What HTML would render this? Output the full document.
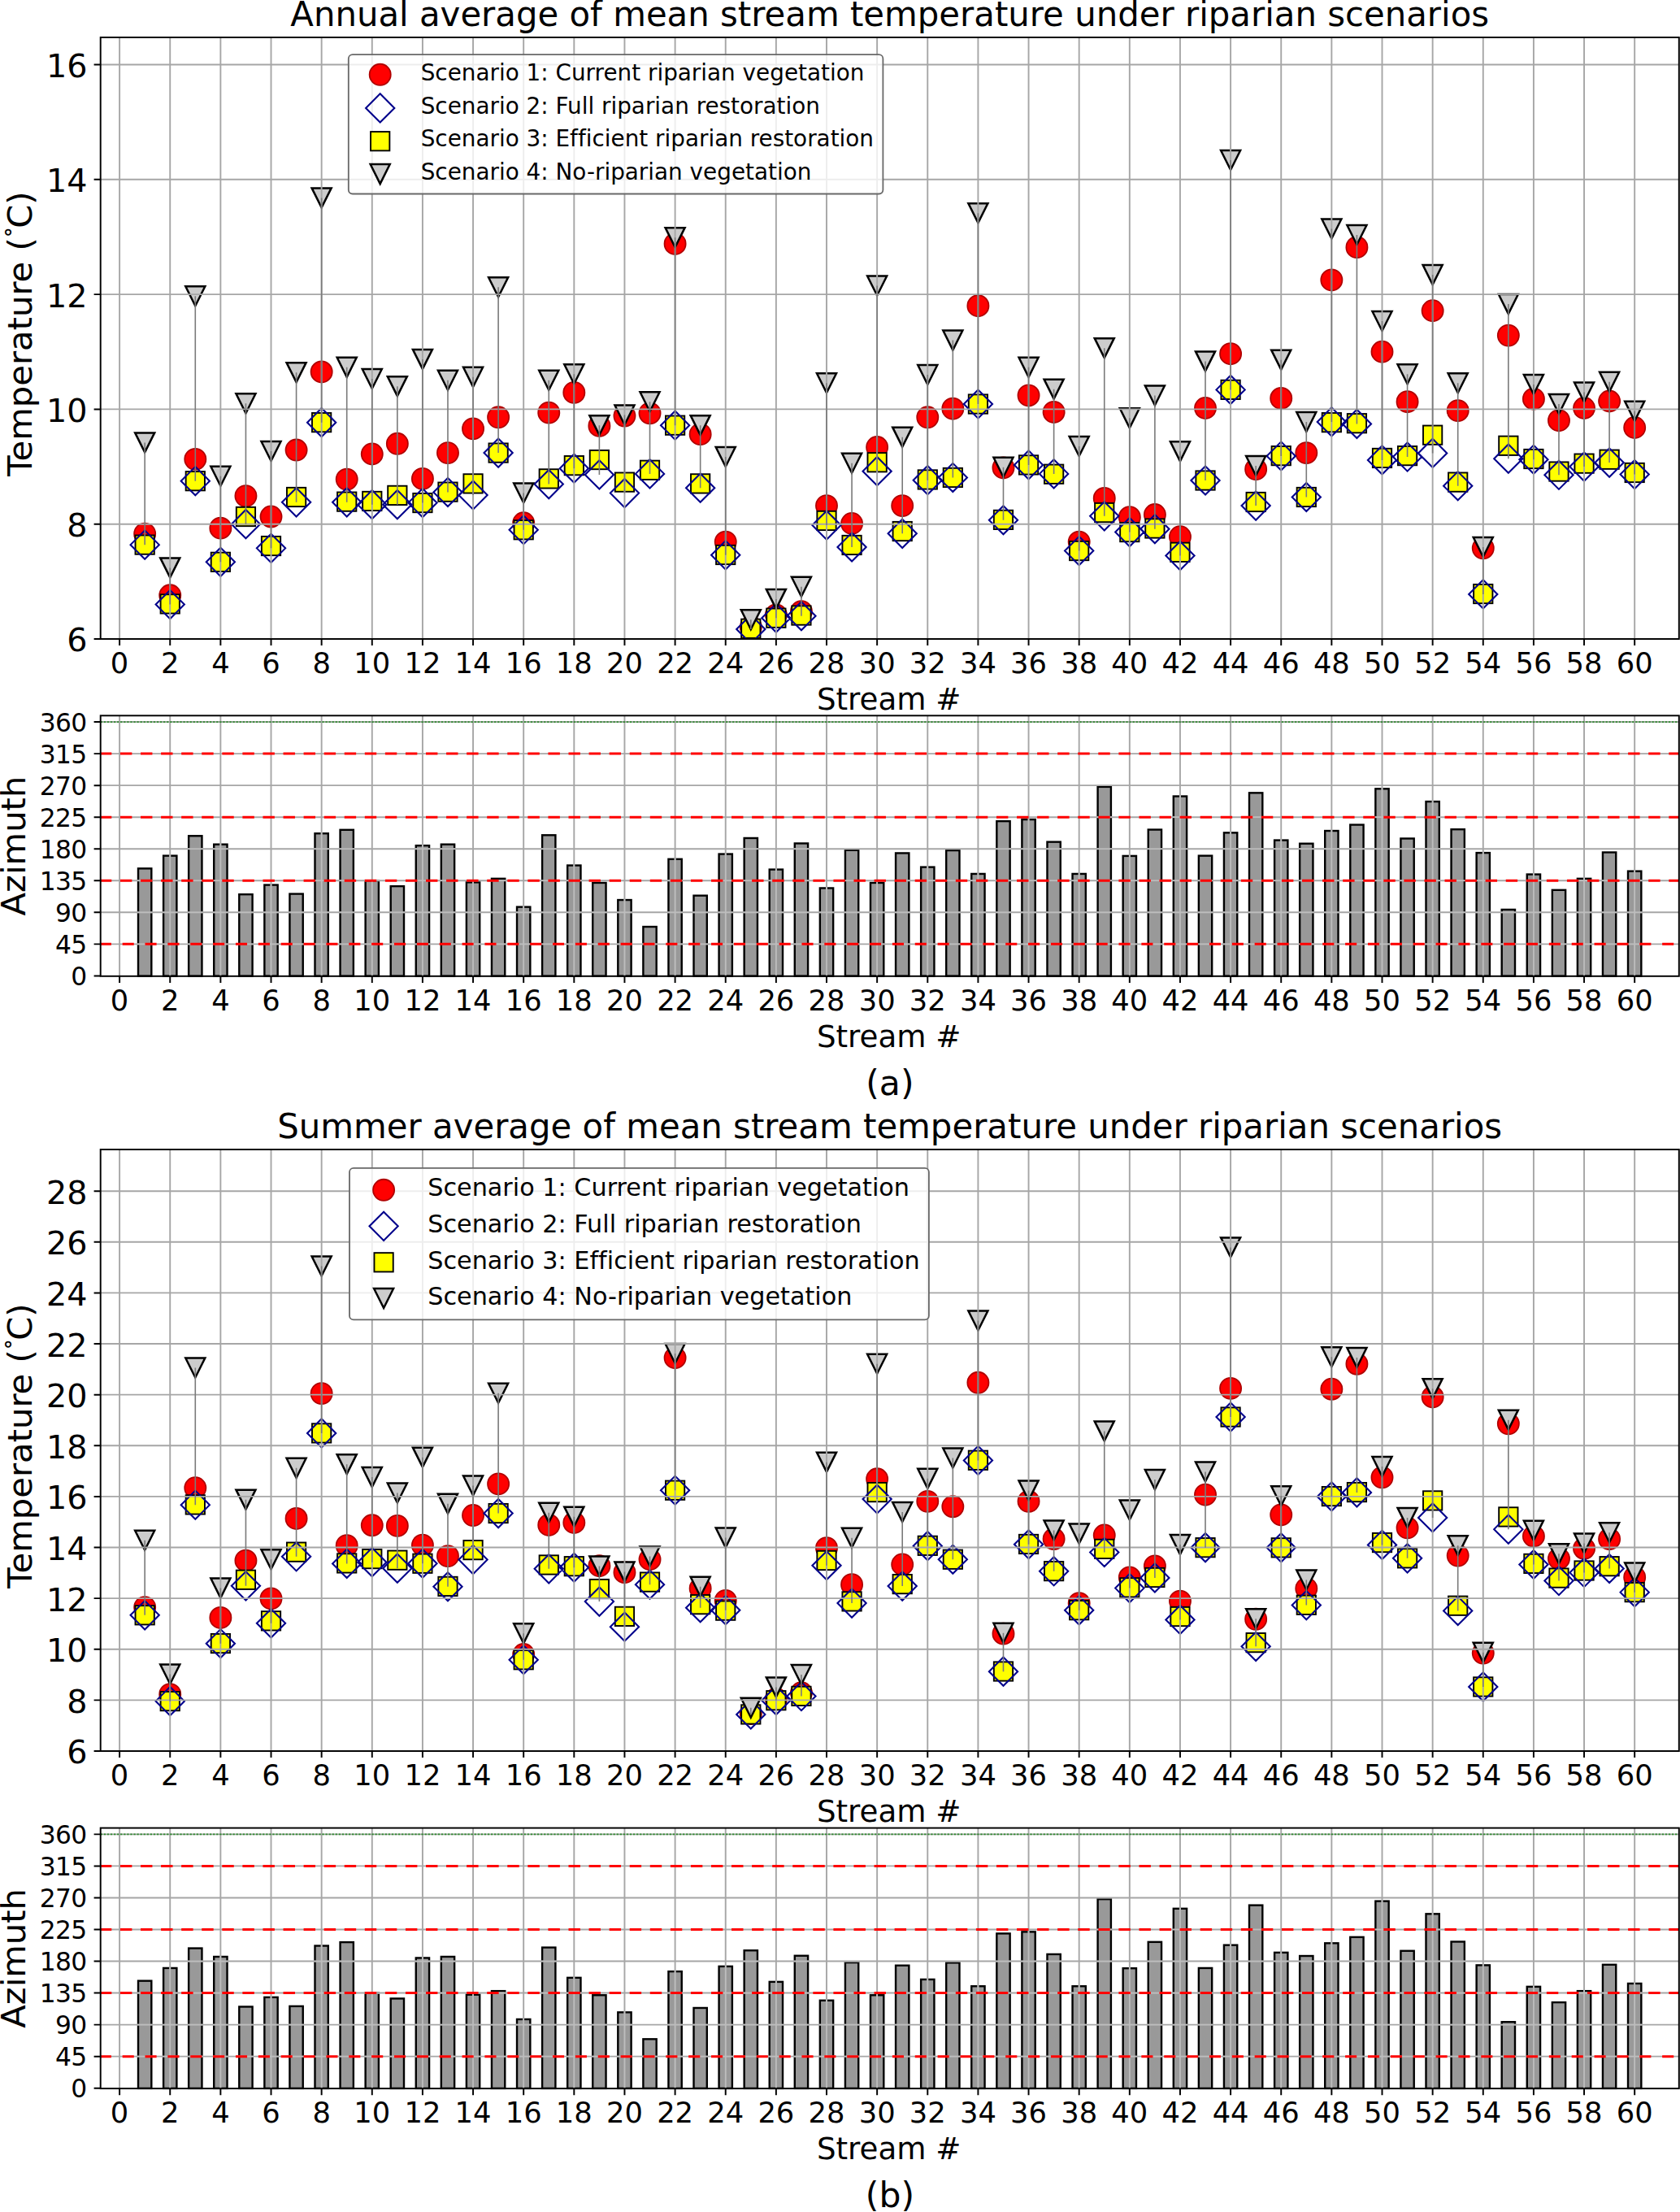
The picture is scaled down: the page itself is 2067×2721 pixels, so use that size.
<!DOCTYPE html>
<html lang="en"><head><meta charset="utf-8"><title>Stream temperature under riparian scenarios</title>
<style>html,body{margin:0;padding:0;background:#fff}svg{display:block}</style></head>
<body>
<svg width="2067" height="2721" viewBox="0 0 2067 2721" font-family="'DejaVu Sans','Liberation Sans',sans-serif" fill="#000" style="font-variant-ligatures:none;font-kerning:normal">
<rect width="2067" height="2721" fill="#fff"/>
<clipPath id="c46"><rect x="123.7" y="46" width="1942.1" height="740"/></clipPath>
<g clip-path="url(#c46)">
<g fill="#ff0000" stroke="#b00000" stroke-width="1.8">
<circle cx="178.17" cy="656.71" r="13.05"/>
<circle cx="209.24" cy="732.31" r="13.05"/>
<circle cx="240.3" cy="564.87" r="13.05"/>
<circle cx="271.37" cy="649.65" r="13.05"/>
<circle cx="302.44" cy="610.08" r="13.05"/>
<circle cx="333.51" cy="635.52" r="13.05"/>
<circle cx="364.58" cy="553.56" r="13.05"/>
<circle cx="395.64" cy="457.48" r="13.05"/>
<circle cx="426.71" cy="589.59" r="13.05"/>
<circle cx="457.78" cy="558.51" r="13.05"/>
<circle cx="488.85" cy="545.79" r="13.05"/>
<circle cx="519.92" cy="588.89" r="13.05"/>
<circle cx="550.98" cy="557.09" r="13.05"/>
<circle cx="582.05" cy="527.42" r="13.05"/>
<circle cx="613.12" cy="513.29" r="13.05"/>
<circle cx="644.19" cy="643.29" r="13.05"/>
<circle cx="675.26" cy="507.64" r="13.05"/>
<circle cx="706.32" cy="482.91" r="13.05"/>
<circle cx="737.39" cy="523.89" r="13.05"/>
<circle cx="768.46" cy="511.52" r="13.05"/>
<circle cx="799.53" cy="508.35" r="13.05"/>
<circle cx="830.6" cy="299.93" r="13.05"/>
<circle cx="861.66" cy="534.13" r="13.05"/>
<circle cx="892.73" cy="666.6" r="13.05"/>
<circle cx="923.8" cy="771.16" r="13.05"/>
<circle cx="954.87" cy="756.33" r="13.05"/>
<circle cx="985.94" cy="752.09" r="13.05"/>
<circle cx="1017" cy="622.09" r="13.05"/>
<circle cx="1048.07" cy="643.99" r="13.05"/>
<circle cx="1079.14" cy="550.03" r="13.05"/>
<circle cx="1110.21" cy="622.09" r="13.05"/>
<circle cx="1141.28" cy="513.29" r="13.05"/>
<circle cx="1172.34" cy="502.69" r="13.05"/>
<circle cx="1203.41" cy="376.23" r="13.05"/>
<circle cx="1234.48" cy="575.46" r="13.05"/>
<circle cx="1265.55" cy="486.44" r="13.05"/>
<circle cx="1296.62" cy="506.93" r="13.05"/>
<circle cx="1327.68" cy="666.6" r="13.05"/>
<circle cx="1358.75" cy="612.91" r="13.05"/>
<circle cx="1389.82" cy="636.22" r="13.05"/>
<circle cx="1420.89" cy="633.04" r="13.05"/>
<circle cx="1451.96" cy="660.24" r="13.05"/>
<circle cx="1483.02" cy="501.99" r="13.05"/>
<circle cx="1514.09" cy="435.22" r="13.05"/>
<circle cx="1545.16" cy="577.23" r="13.05"/>
<circle cx="1576.23" cy="489.98" r="13.05"/>
<circle cx="1607.3" cy="557.09" r="13.05"/>
<circle cx="1638.36" cy="344.44" r="13.05"/>
<circle cx="1669.43" cy="304.17" r="13.05"/>
<circle cx="1700.5" cy="432.75" r="13.05"/>
<circle cx="1731.57" cy="494.22" r="13.05"/>
<circle cx="1762.64" cy="382.24" r="13.05"/>
<circle cx="1793.7" cy="505.17" r="13.05"/>
<circle cx="1824.77" cy="674.37" r="13.05"/>
<circle cx="1855.84" cy="412.61" r="13.05"/>
<circle cx="1886.91" cy="490.68" r="13.05"/>
<circle cx="1917.98" cy="517.18" r="13.05"/>
<circle cx="1949.04" cy="501.99" r="13.05"/>
<circle cx="1980.11" cy="493.51" r="13.05"/>
<circle cx="2011.18" cy="526.01" r="13.05"/>
</g>
<g fill="#ffff00" stroke="#000" stroke-width="1.9">
<rect x="166.52" y="658.48" width="23.3" height="23.3"/>
<rect x="197.59" y="731.25" width="23.3" height="23.3"/>
<rect x="228.65" y="580.06" width="23.3" height="23.3"/>
<rect x="259.72" y="679.68" width="23.3" height="23.3"/>
<rect x="290.79" y="623.87" width="23.3" height="23.3"/>
<rect x="321.86" y="659.9" width="23.3" height="23.3"/>
<rect x="352.93" y="599.84" width="23.3" height="23.3"/>
<rect x="383.99" y="508" width="23.3" height="23.3"/>
<rect x="415.06" y="605.5" width="23.3" height="23.3"/>
<rect x="446.13" y="604.79" width="23.3" height="23.3"/>
<rect x="477.2" y="597.73" width="23.3" height="23.3"/>
<rect x="508.27" y="606.91" width="23.3" height="23.3"/>
<rect x="539.33" y="593.49" width="23.3" height="23.3"/>
<rect x="570.4" y="583.24" width="23.3" height="23.3"/>
<rect x="601.47" y="545.44" width="23.3" height="23.3"/>
<rect x="632.54" y="640.12" width="23.3" height="23.3"/>
<rect x="663.61" y="577.24" width="23.3" height="23.3"/>
<rect x="694.67" y="560.99" width="23.3" height="23.3"/>
<rect x="725.74" y="553.92" width="23.3" height="23.3"/>
<rect x="756.81" y="581.48" width="23.3" height="23.3"/>
<rect x="787.88" y="566.64" width="23.3" height="23.3"/>
<rect x="818.95" y="511.53" width="23.3" height="23.3"/>
<rect x="850.01" y="583.24" width="23.3" height="23.3"/>
<rect x="881.08" y="670.85" width="23.3" height="23.3"/>
<rect x="912.15" y="761.63" width="23.3" height="23.3"/>
<rect x="943.22" y="748.56" width="23.3" height="23.3"/>
<rect x="974.29" y="745.38" width="23.3" height="23.3"/>
<rect x="1005.35" y="628.81" width="23.3" height="23.3"/>
<rect x="1036.42" y="658.84" width="23.3" height="23.3"/>
<rect x="1067.49" y="557.1" width="23.3" height="23.3"/>
<rect x="1098.56" y="641.88" width="23.3" height="23.3"/>
<rect x="1129.63" y="578.3" width="23.3" height="23.3"/>
<rect x="1160.69" y="575.82" width="23.3" height="23.3"/>
<rect x="1191.76" y="485.39" width="23.3" height="23.3"/>
<rect x="1222.83" y="627.75" width="23.3" height="23.3"/>
<rect x="1253.9" y="560.28" width="23.3" height="23.3"/>
<rect x="1284.97" y="571.58" width="23.3" height="23.3"/>
<rect x="1316.03" y="665.9" width="23.3" height="23.3"/>
<rect x="1347.1" y="618.92" width="23.3" height="23.3"/>
<rect x="1378.17" y="642.94" width="23.3" height="23.3"/>
<rect x="1409.24" y="638.35" width="23.3" height="23.3"/>
<rect x="1440.31" y="667.67" width="23.3" height="23.3"/>
<rect x="1471.37" y="579.36" width="23.3" height="23.3"/>
<rect x="1502.44" y="467.73" width="23.3" height="23.3"/>
<rect x="1533.51" y="605.85" width="23.3" height="23.3"/>
<rect x="1564.58" y="548.98" width="23.3" height="23.3"/>
<rect x="1595.65" y="599.84" width="23.3" height="23.3"/>
<rect x="1626.71" y="508" width="23.3" height="23.3"/>
<rect x="1657.78" y="509.06" width="23.3" height="23.3"/>
<rect x="1688.85" y="551.8" width="23.3" height="23.3"/>
<rect x="1719.92" y="548.98" width="23.3" height="23.3"/>
<rect x="1750.99" y="523.54" width="23.3" height="23.3"/>
<rect x="1782.05" y="581.48" width="23.3" height="23.3"/>
<rect x="1813.12" y="718.89" width="23.3" height="23.3"/>
<rect x="1844.19" y="536.61" width="23.3" height="23.3"/>
<rect x="1875.26" y="552.86" width="23.3" height="23.3"/>
<rect x="1906.33" y="568.41" width="23.3" height="23.3"/>
<rect x="1937.39" y="558.51" width="23.3" height="23.3"/>
<rect x="1968.46" y="553.57" width="23.3" height="23.3"/>
<rect x="1999.53" y="569.82" width="23.3" height="23.3"/>
</g>
<path d="M178.17 652.53L195.77 670.13L178.17 687.73L160.57 670.13ZM209.24 726.01L226.84 743.61L209.24 761.21L191.64 743.61ZM240.3 574.11L257.9 591.71L240.3 609.31L222.7 591.71ZM271.37 673.73L288.97 691.33L271.37 708.93L253.77 691.33ZM302.44 627.1L320.04 644.7L302.44 662.3L284.84 644.7ZM333.51 656.77L351.11 674.37L333.51 691.97L315.91 674.37ZM364.58 600.25L382.18 617.85L364.58 635.45L346.98 617.85ZM395.64 502.05L413.24 519.65L395.64 537.25L378.04 519.65ZM426.71 600.25L444.31 617.85L426.71 635.45L409.11 617.85ZM457.78 603.08L475.38 620.68L457.78 638.28L440.18 620.68ZM488.85 603.08L506.45 620.68L488.85 638.28L471.25 620.68ZM519.92 600.96L537.52 618.56L519.92 636.16L502.32 618.56ZM550.98 587.89L568.58 605.49L550.98 623.09L533.38 605.49ZM582.05 591.42L599.65 609.02L582.05 626.62L564.45 609.02ZM613.12 539.49L630.72 557.09L613.12 574.69L595.52 557.09ZM644.19 634.16L661.79 651.76L644.19 669.37L626.59 651.76ZM675.26 578L692.86 595.6L675.26 613.2L657.66 595.6ZM706.32 558.57L723.92 576.17L706.32 593.77L688.72 576.17ZM737.39 566.34L754.99 583.94L737.39 601.54L719.79 583.94ZM768.46 588.95L786.06 606.55L768.46 624.15L750.86 606.55ZM799.53 565.28L817.13 582.88L799.53 600.48L781.93 582.88ZM830.6 505.58L848.2 523.18L830.6 540.78L813 523.18ZM861.66 582.59L879.26 600.19L861.66 617.79L844.06 600.19ZM892.73 665.25L910.33 682.85L892.73 700.45L875.13 682.85ZM923.8 756.39L941.4 773.99L923.8 791.59L906.2 773.99ZM954.87 742.61L972.47 760.21L954.87 777.81L937.27 760.21ZM985.94 740.14L1003.54 757.74L985.94 775.34L968.34 757.74ZM1017 628.51L1034.6 646.11L1017 663.71L999.4 646.11ZM1048.07 655.36L1065.67 672.96L1048.07 690.56L1030.47 672.96ZM1079.14 562.1L1096.74 579.7L1079.14 597.3L1061.54 579.7ZM1110.21 638.76L1127.81 656.36L1110.21 673.96L1092.61 656.36ZM1141.28 573.05L1158.88 590.65L1141.28 608.25L1123.68 590.65ZM1172.34 569.87L1189.94 587.47L1172.34 605.07L1154.74 587.47ZM1203.41 479.44L1221.01 497.04L1203.41 514.64L1185.81 497.04ZM1234.48 622.15L1252.08 639.75L1234.48 657.35L1216.88 639.75ZM1265.55 554.33L1283.15 571.93L1265.55 589.53L1247.95 571.93ZM1296.62 565.28L1314.22 582.88L1296.62 600.48L1279.02 582.88ZM1327.68 659.95L1345.28 677.55L1327.68 695.15L1310.08 677.55ZM1358.75 617.21L1376.35 634.81L1358.75 652.41L1341.15 634.81ZM1389.82 636.99L1407.42 654.59L1389.82 672.19L1372.22 654.59ZM1420.89 633.11L1438.49 650.71L1420.89 668.31L1403.29 650.71ZM1451.96 665.96L1469.56 683.56L1451.96 701.16L1434.36 683.56ZM1483.02 573.41L1500.62 591.01L1483.02 608.61L1465.42 591.01ZM1514.09 461.78L1531.69 479.38L1514.09 496.98L1496.49 479.38ZM1545.16 604.49L1562.76 622.09L1545.16 639.69L1527.56 622.09ZM1576.23 543.38L1593.83 560.98L1576.23 578.58L1558.63 560.98ZM1607.3 593.89L1624.9 611.49L1607.3 629.09L1589.7 611.49ZM1638.36 501.34L1655.96 518.94L1638.36 536.54L1620.76 518.94ZM1669.43 503.82L1687.03 521.42L1669.43 539.02L1651.83 521.42ZM1700.5 548.33L1718.1 565.93L1700.5 583.53L1682.9 565.93ZM1731.57 544.44L1749.17 562.04L1731.57 579.64L1713.97 562.04ZM1762.64 539.85L1780.24 557.45L1762.64 575.05L1745.04 557.45ZM1793.7 580.12L1811.3 597.72L1793.7 615.32L1776.1 597.72ZM1824.77 713.29L1842.37 730.89L1824.77 748.49L1807.17 730.89ZM1855.84 546.56L1873.44 564.16L1855.84 581.76L1838.24 564.16ZM1886.91 547.62L1904.51 565.22L1886.91 582.82L1869.31 565.22ZM1917.98 566.69L1935.58 584.29L1917.98 601.89L1900.38 584.29ZM1949.04 556.45L1966.64 574.05L1949.04 591.65L1931.44 574.05ZM1980.11 551.5L1997.71 569.1L1980.11 586.7L1962.51 569.1ZM2011.18 565.99L2028.78 583.59L2011.18 601.19L1993.58 583.59Z" fill="none" stroke="#00008b" stroke-width="2.1" stroke-linejoin="miter"/>
<path d="M166.17 532.38L190.17 532.38L178.17 556.38ZM197.24 686.39L221.24 686.39L209.24 710.39ZM228.3 352.22L252.3 352.22L240.3 376.22ZM259.37 573.71L283.37 573.71L271.37 597.71ZM290.44 484.33L314.44 484.33L302.44 508.33ZM321.51 542.97L345.51 542.97L333.51 566.97ZM352.58 446.18L376.58 446.18L364.58 470.18ZM383.64 231.41L407.64 231.41L395.64 255.41ZM414.71 439.83L438.71 439.83L426.71 463.83ZM445.78 453.96L469.78 453.96L457.78 477.96ZM476.85 463.14L500.85 463.14L488.85 487.14ZM507.92 429.93L531.92 429.93L519.92 453.93ZM538.98 455.72L562.98 455.72L550.98 479.72ZM570.05 451.84L594.05 451.84L582.05 475.84ZM601.12 341.27L625.12 341.27L613.12 365.27ZM632.19 594.55L656.19 594.55L644.19 618.55ZM663.26 455.72L687.26 455.72L675.26 479.72ZM694.32 448.3L718.32 448.3L706.32 472.3ZM725.39 511.18L749.39 511.18L737.39 535.18ZM756.46 498.46L780.46 498.46L768.46 522.46ZM787.53 482.22L811.53 482.22L799.53 506.22ZM818.6 280.16L842.6 280.16L830.6 304.16ZM849.66 511.18L873.66 511.18L861.66 535.18ZM880.73 550.04L904.73 550.04L892.73 574.04ZM911.8 750.19L935.8 750.19L923.8 774.19ZM942.87 724.9L966.87 724.9L954.87 748.9ZM973.94 709.71L997.94 709.71L985.94 733.71ZM1005 459.25L1029 459.25L1017 483.25ZM1036.07 557.81L1060.07 557.81L1048.07 581.81ZM1067.14 339.5L1091.14 339.5L1079.14 363.5ZM1098.21 525.67L1122.21 525.67L1110.21 549.67ZM1129.28 449.01L1153.28 449.01L1141.28 473.01ZM1160.34 406.62L1184.34 406.62L1172.34 430.62ZM1191.41 250.13L1215.41 250.13L1203.41 274.13ZM1222.48 562.76L1246.48 562.76L1234.48 586.76ZM1253.55 439.83L1277.55 439.83L1265.55 463.83ZM1284.62 466.67L1308.62 466.67L1296.62 490.67ZM1315.68 536.97L1339.68 536.97L1327.68 560.97ZM1346.75 416.16L1370.75 416.16L1358.75 440.16ZM1377.82 502.35L1401.82 502.35L1389.82 526.35ZM1408.89 474.44L1432.89 474.44L1420.89 498.44ZM1439.96 543.33L1463.96 543.33L1451.96 567.33ZM1471.02 432.41L1495.02 432.41L1483.02 456.41ZM1502.09 185.06L1526.09 185.06L1514.09 209.06ZM1533.16 560.99L1557.16 560.99L1545.16 584.99ZM1564.23 430.64L1588.23 430.64L1576.23 454.64ZM1595.3 506.94L1619.3 506.94L1607.3 530.94ZM1626.36 269.56L1650.36 269.56L1638.36 293.56ZM1657.43 276.98L1681.43 276.98L1669.43 300.98ZM1688.5 382.95L1712.5 382.95L1700.5 406.95ZM1719.57 448.3L1743.57 448.3L1731.57 472.3ZM1750.64 326.08L1774.64 326.08L1762.64 350.08ZM1781.7 459.25L1805.7 459.25L1793.7 483.25ZM1812.77 660.96L1836.77 660.96L1824.77 684.96ZM1843.84 362.11L1867.84 362.11L1855.84 386.11ZM1874.91 461.02L1898.91 461.02L1886.91 485.02ZM1905.98 485.04L1929.98 485.04L1917.98 509.04ZM1937.04 470.56L1961.04 470.56L1949.04 494.56ZM1968.11 457.84L1992.11 457.84L1980.11 481.84ZM1999.18 493.87L2023.18 493.87L2011.18 517.87Z" fill="#cccccc" stroke="#000" stroke-width="2.5" stroke-linejoin="miter"/>
</g>
<path d="M147.1 46V786M209.24 46V786M271.37 46V786M333.51 46V786M395.64 46V786M457.78 46V786M519.92 46V786M582.05 46V786M644.19 46V786M706.32 46V786M768.46 46V786M830.6 46V786M892.73 46V786M954.87 46V786M1017 46V786M1079.14 46V786M1141.28 46V786M1203.41 46V786M1265.55 46V786M1327.68 46V786M1389.82 46V786M1451.96 46V786M1514.09 46V786M1576.23 46V786M1638.36 46V786M1700.5 46V786M1762.64 46V786M1824.77 46V786M1886.91 46V786M1949.04 46V786M2011.18 46V786" stroke="#a6a6a6" stroke-width="1.9" fill="none"/>
<path d="M123.7 644.7H2065.8M123.7 503.4H2065.8M123.7 362.1H2065.8M123.7 220.8H2065.8M123.7 79.5H2065.8" stroke="#a6a6a6" stroke-width="1.9" fill="none"/>
<path d="M178.17 670.13V544.38M209.24 743.61V698.39M240.3 591.71V364.22M271.37 691.33V585.71M302.44 644.7V496.33M333.51 674.37V554.97M364.58 617.85V458.18M395.64 519.65V243.41M426.71 617.85V451.83M457.78 620.68V465.96M488.85 620.68V475.14M519.92 618.56V441.93M550.98 605.49V467.72M582.05 609.02V463.84M613.12 557.09V353.27M644.19 651.76V606.55M675.26 595.6V467.72M706.32 576.17V460.3M737.39 583.94V523.18M768.46 606.55V510.46M799.53 582.88V494.22M830.6 523.18V292.16M861.66 600.19V523.18M892.73 682.85V562.04M923.8 773.99V762.19M954.87 760.21V736.9M985.94 757.74V721.71M1017 646.11V471.25M1048.07 672.96V569.81M1079.14 579.7V351.5M1110.21 656.36V537.67M1141.28 590.65V461.01M1172.34 587.47V418.62M1203.41 497.04V262.13M1234.48 639.75V574.76M1265.55 571.93V451.83M1296.62 582.88V478.67M1327.68 677.55V548.97M1358.75 634.81V428.16M1389.82 654.59V514.35M1420.89 650.71V486.44M1451.96 683.56V555.33M1483.02 591.01V444.41M1514.09 479.38V197.06M1545.16 622.09V572.99M1576.23 560.98V442.64M1607.3 611.49V518.94M1638.36 518.94V281.56M1669.43 521.42V288.98M1700.5 565.93V394.95M1731.57 562.04V460.3M1762.64 557.45V338.08M1793.7 597.72V471.25M1824.77 730.89V672.96M1855.84 564.16V374.11M1886.91 565.22V473.02M1917.98 584.29V497.04M1949.04 574.05V482.56M1980.11 569.1V469.84M2011.18 583.59V505.87" stroke="#7a7a7a" stroke-width="1.6" fill="none"/>
<rect x="123.7" y="46" width="1942.1" height="740" fill="none" stroke="#000" stroke-width="1.95"/>
<path d="M147.1 786v8.1M209.24 786v8.1M271.37 786v8.1M333.51 786v8.1M395.64 786v8.1M457.78 786v8.1M519.92 786v8.1M582.05 786v8.1M644.19 786v8.1M706.32 786v8.1M768.46 786v8.1M830.6 786v8.1M892.73 786v8.1M954.87 786v8.1M1017 786v8.1M1079.14 786v8.1M1141.28 786v8.1M1203.41 786v8.1M1265.55 786v8.1M1327.68 786v8.1M1389.82 786v8.1M1451.96 786v8.1M1514.09 786v8.1M1576.23 786v8.1M1638.36 786v8.1M1700.5 786v8.1M1762.64 786v8.1M1824.77 786v8.1M1886.91 786v8.1M1949.04 786v8.1M2011.18 786v8.1" stroke="#000" stroke-width="1.95" fill="none"/>
<g font-size="35.3" text-anchor="middle">
<text x="147.1" y="828">0</text>
<text x="209.24" y="828">2</text>
<text x="271.37" y="828">4</text>
<text x="333.51" y="828">6</text>
<text x="395.64" y="828">8</text>
<text x="457.78" y="828">10</text>
<text x="519.92" y="828">12</text>
<text x="582.05" y="828">14</text>
<text x="644.19" y="828">16</text>
<text x="706.32" y="828">18</text>
<text x="768.46" y="828">20</text>
<text x="830.6" y="828">22</text>
<text x="892.73" y="828">24</text>
<text x="954.87" y="828">26</text>
<text x="1017" y="828">28</text>
<text x="1079.14" y="828">30</text>
<text x="1141.28" y="828">32</text>
<text x="1203.41" y="828">34</text>
<text x="1265.55" y="828">36</text>
<text x="1327.68" y="828">38</text>
<text x="1389.82" y="828">40</text>
<text x="1451.96" y="828">42</text>
<text x="1514.09" y="828">44</text>
<text x="1576.23" y="828">46</text>
<text x="1638.36" y="828">48</text>
<text x="1700.5" y="828">50</text>
<text x="1762.64" y="828">52</text>
<text x="1824.77" y="828">54</text>
<text x="1886.91" y="828">56</text>
<text x="1949.04" y="828">58</text>
<text x="2011.18" y="828">60</text>
</g>
<text x="1093.7" y="873.2" font-size="37.2" text-anchor="middle">Stream #</text>
<path d="M123.7 786h-8.1M123.7 644.7h-8.1M123.7 503.4h-8.1M123.7 362.1h-8.1M123.7 220.8h-8.1M123.7 79.5h-8.1" stroke="#000" stroke-width="1.95" fill="none"/>
<g font-size="39.7" text-anchor="end">
<text x="107.5" y="801.47">6</text>
<text x="107.5" y="660.17">8</text>
<text x="107.5" y="518.87">10</text>
<text x="107.5" y="377.57">12</text>
<text x="107.5" y="236.27">14</text>
<text x="107.5" y="94.97">16</text>
</g>
<text x="1094.7" y="32.4" font-size="41.83" text-anchor="middle">Annual average of mean stream temperature under riparian scenarios</text>
<text transform="translate(38.9 585.8) rotate(-90)" font-size="41.7">Temperature (<tspan font-size="30.3" dx="-0.96" dy="-5.7">˚</tspan><tspan dx="-2.76" dy="5.7">C)</tspan></text>
<rect x="428.8" y="67.2" width="657.6" height="171.3" rx="5" ry="5" fill="#fff" fill-opacity="0.8" stroke="#686868" stroke-width="1.8"/>
<circle cx="467.7" cy="91.8" r="13.05" fill="#ff0000" stroke="#b00000" stroke-width="1.8"/>
<path d="M467.7 115.3L485.3 132.9L467.7 150.5L450.1 132.9Z" fill="none" stroke="#00008b" stroke-width="2.1"/>
<rect x="456.05" y="162.05" width="23.3" height="23.3" fill="#ffff00" stroke="#000" stroke-width="1.9"/>
<path d="M455.7 202.1L479.7 202.1L467.7 226.1Z" fill="#cccccc" stroke="#000" stroke-width="2.5"/>
<g font-size="27.85">
<text x="517.7" y="99">Scenario 1: Current riparian vegetation</text>
<text x="517.7" y="139.5">Scenario 2: Full riparian restoration</text>
<text x="517.7" y="180.4">Scenario 3: Efficient riparian restoration</text>
<text x="517.7" y="221.3">Scenario 4: No-riparian vegetation</text>
</g>
<g fill="#999999" stroke="#000" stroke-width="2.4">
<rect x="170.02" y="1068.35" width="16.3" height="132.25"/>
<rect x="201.09" y="1052.65" width="16.3" height="147.95"/>
<rect x="232.15" y="1028.27" width="16.3" height="172.33"/>
<rect x="263.22" y="1038.68" width="16.3" height="161.92"/>
<rect x="294.29" y="1100.19" width="16.3" height="100.41"/>
<rect x="325.36" y="1088.57" width="16.3" height="112.03"/>
<rect x="356.43" y="1099.58" width="16.3" height="101.02"/>
<rect x="387.49" y="1025.23" width="16.3" height="175.37"/>
<rect x="418.56" y="1020.81" width="16.3" height="179.79"/>
<rect x="449.63" y="1083.27" width="16.3" height="117.33"/>
<rect x="480.7" y="1090.13" width="16.3" height="110.47"/>
<rect x="511.77" y="1040.15" width="16.3" height="160.45"/>
<rect x="542.83" y="1038.68" width="16.3" height="161.92"/>
<rect x="573.9" y="1085.36" width="16.3" height="115.24"/>
<rect x="604.97" y="1080.84" width="16.3" height="119.76"/>
<rect x="636.04" y="1115.64" width="16.3" height="84.96"/>
<rect x="667.11" y="1027.31" width="16.3" height="173.29"/>
<rect x="698.17" y="1064.53" width="16.3" height="136.07"/>
<rect x="729.24" y="1085.96" width="16.3" height="114.64"/>
<rect x="760.31" y="1107.05" width="16.3" height="93.55"/>
<rect x="791.38" y="1140.02" width="16.3" height="60.58"/>
<rect x="822.45" y="1056.81" width="16.3" height="143.79"/>
<rect x="853.51" y="1101.67" width="16.3" height="98.93"/>
<rect x="884.58" y="1050.57" width="16.3" height="150.03"/>
<rect x="915.65" y="1030.96" width="16.3" height="169.64"/>
<rect x="946.72" y="1069.57" width="16.3" height="131.03"/>
<rect x="977.79" y="1037.46" width="16.3" height="163.14"/>
<rect x="1008.85" y="1092.47" width="16.3" height="108.13"/>
<rect x="1039.92" y="1045.79" width="16.3" height="154.81"/>
<rect x="1070.99" y="1085.96" width="16.3" height="114.64"/>
<rect x="1102.06" y="1049.44" width="16.3" height="151.16"/>
<rect x="1133.13" y="1066.62" width="16.3" height="133.98"/>
<rect x="1164.19" y="1046.05" width="16.3" height="154.55"/>
<rect x="1195.26" y="1074.95" width="16.3" height="125.65"/>
<rect x="1226.33" y="1010.14" width="16.3" height="190.46"/>
<rect x="1257.4" y="1008.05" width="16.3" height="192.55"/>
<rect x="1288.47" y="1035.64" width="16.3" height="164.96"/>
<rect x="1319.53" y="1074.95" width="16.3" height="125.65"/>
<rect x="1350.6" y="967.88" width="16.3" height="232.72"/>
<rect x="1381.67" y="1052.91" width="16.3" height="147.69"/>
<rect x="1412.74" y="1020.55" width="16.3" height="180.05"/>
<rect x="1443.81" y="979.51" width="16.3" height="221.09"/>
<rect x="1474.87" y="1052.65" width="16.3" height="147.95"/>
<rect x="1505.94" y="1024.36" width="16.3" height="176.24"/>
<rect x="1537.01" y="975.34" width="16.3" height="225.26"/>
<rect x="1568.08" y="1033.56" width="16.3" height="167.04"/>
<rect x="1599.15" y="1037.72" width="16.3" height="162.88"/>
<rect x="1630.21" y="1022.02" width="16.3" height="178.58"/>
<rect x="1661.28" y="1014.56" width="16.3" height="186.04"/>
<rect x="1692.35" y="970.31" width="16.3" height="230.29"/>
<rect x="1723.42" y="1031.48" width="16.3" height="169.12"/>
<rect x="1754.49" y="986.02" width="16.3" height="214.58"/>
<rect x="1785.55" y="1020.2" width="16.3" height="180.4"/>
<rect x="1816.62" y="1049.09" width="16.3" height="151.51"/>
<rect x="1847.69" y="1118.93" width="16.3" height="81.67"/>
<rect x="1878.76" y="1075.55" width="16.3" height="125.05"/>
<rect x="1909.83" y="1094.81" width="16.3" height="105.79"/>
<rect x="1940.89" y="1080.84" width="16.3" height="119.76"/>
<rect x="1971.96" y="1048.48" width="16.3" height="152.12"/>
<rect x="2003.03" y="1071.65" width="16.3" height="128.95"/>
</g>
<path d="M147.1 880.3V1200.8M209.24 880.3V1200.8M271.37 880.3V1200.8M333.51 880.3V1200.8M395.64 880.3V1200.8M457.78 880.3V1200.8M519.92 880.3V1200.8M582.05 880.3V1200.8M644.19 880.3V1200.8M706.32 880.3V1200.8M768.46 880.3V1200.8M830.6 880.3V1200.8M892.73 880.3V1200.8M954.87 880.3V1200.8M1017 880.3V1200.8M1079.14 880.3V1200.8M1141.28 880.3V1200.8M1203.41 880.3V1200.8M1265.55 880.3V1200.8M1327.68 880.3V1200.8M1389.82 880.3V1200.8M1451.96 880.3V1200.8M1514.09 880.3V1200.8M1576.23 880.3V1200.8M1638.36 880.3V1200.8M1700.5 880.3V1200.8M1762.64 880.3V1200.8M1824.77 880.3V1200.8M1886.91 880.3V1200.8M1949.04 880.3V1200.8M2011.18 880.3V1200.8" stroke="#a6a6a6" stroke-width="1.9" fill="none"/>
<path d="M123.7 1161.36H2065.8M123.7 1122.32H2065.8M123.7 1083.27H2065.8M123.7 1044.23H2065.8M123.7 1005.19H2065.8M123.7 966.15H2065.8M123.7 927.11H2065.8M123.7 888.06H2065.8" stroke="#a6a6a6" stroke-width="1.9" fill="none"/>
<clipPath id="b880"><rect x="168.82" y="1067.15" width="18.7" height="133.65"/><rect x="199.89" y="1051.45" width="18.7" height="149.35"/><rect x="230.95" y="1027.07" width="18.7" height="173.73"/><rect x="262.02" y="1037.48" width="18.7" height="163.32"/><rect x="293.09" y="1098.99" width="18.7" height="101.81"/><rect x="324.16" y="1087.37" width="18.7" height="113.43"/><rect x="355.23" y="1098.38" width="18.7" height="102.42"/><rect x="386.29" y="1024.03" width="18.7" height="176.77"/><rect x="417.36" y="1019.61" width="18.7" height="181.19"/><rect x="448.43" y="1082.07" width="18.7" height="118.73"/><rect x="479.5" y="1088.93" width="18.7" height="111.87"/><rect x="510.57" y="1038.95" width="18.7" height="161.85"/><rect x="541.63" y="1037.48" width="18.7" height="163.32"/><rect x="572.7" y="1084.16" width="18.7" height="116.64"/><rect x="603.77" y="1079.64" width="18.7" height="121.16"/><rect x="634.84" y="1114.44" width="18.7" height="86.36"/><rect x="665.91" y="1026.11" width="18.7" height="174.69"/><rect x="696.97" y="1063.33" width="18.7" height="137.47"/><rect x="728.04" y="1084.76" width="18.7" height="116.04"/><rect x="759.11" y="1105.85" width="18.7" height="94.95"/><rect x="790.18" y="1138.82" width="18.7" height="61.98"/><rect x="821.25" y="1055.61" width="18.7" height="145.19"/><rect x="852.31" y="1100.47" width="18.7" height="100.33"/><rect x="883.38" y="1049.37" width="18.7" height="151.43"/><rect x="914.45" y="1029.76" width="18.7" height="171.04"/><rect x="945.52" y="1068.37" width="18.7" height="132.43"/><rect x="976.59" y="1036.26" width="18.7" height="164.54"/><rect x="1007.65" y="1091.27" width="18.7" height="109.53"/><rect x="1038.72" y="1044.59" width="18.7" height="156.21"/><rect x="1069.79" y="1084.76" width="18.7" height="116.04"/><rect x="1100.86" y="1048.24" width="18.7" height="152.56"/><rect x="1131.93" y="1065.42" width="18.7" height="135.38"/><rect x="1162.99" y="1044.85" width="18.7" height="155.95"/><rect x="1194.06" y="1073.75" width="18.7" height="127.05"/><rect x="1225.13" y="1008.94" width="18.7" height="191.86"/><rect x="1256.2" y="1006.85" width="18.7" height="193.95"/><rect x="1287.27" y="1034.44" width="18.7" height="166.36"/><rect x="1318.33" y="1073.75" width="18.7" height="127.05"/><rect x="1349.4" y="966.68" width="18.7" height="234.12"/><rect x="1380.47" y="1051.71" width="18.7" height="149.09"/><rect x="1411.54" y="1019.35" width="18.7" height="181.45"/><rect x="1442.61" y="978.31" width="18.7" height="222.49"/><rect x="1473.67" y="1051.45" width="18.7" height="149.35"/><rect x="1504.74" y="1023.16" width="18.7" height="177.64"/><rect x="1535.81" y="974.14" width="18.7" height="226.66"/><rect x="1566.88" y="1032.36" width="18.7" height="168.44"/><rect x="1597.95" y="1036.52" width="18.7" height="164.28"/><rect x="1629.01" y="1020.82" width="18.7" height="179.98"/><rect x="1660.08" y="1013.36" width="18.7" height="187.44"/><rect x="1691.15" y="969.11" width="18.7" height="231.69"/><rect x="1722.22" y="1030.28" width="18.7" height="170.52"/><rect x="1753.29" y="984.82" width="18.7" height="215.98"/><rect x="1784.35" y="1019" width="18.7" height="181.8"/><rect x="1815.42" y="1047.89" width="18.7" height="152.91"/><rect x="1846.49" y="1117.73" width="18.7" height="83.07"/><rect x="1877.56" y="1074.35" width="18.7" height="126.45"/><rect x="1908.63" y="1093.61" width="18.7" height="107.19"/><rect x="1939.69" y="1079.64" width="18.7" height="121.16"/><rect x="1970.76" y="1047.28" width="18.7" height="153.52"/><rect x="2001.83" y="1070.45" width="18.7" height="130.35"/></clipPath>
<g clip-path="url(#b880)">
<path d="M147.1 880.3V1200.8M209.24 880.3V1200.8M271.37 880.3V1200.8M333.51 880.3V1200.8M395.64 880.3V1200.8M457.78 880.3V1200.8M519.92 880.3V1200.8M582.05 880.3V1200.8M644.19 880.3V1200.8M706.32 880.3V1200.8M768.46 880.3V1200.8M830.6 880.3V1200.8M892.73 880.3V1200.8M954.87 880.3V1200.8M1017 880.3V1200.8M1079.14 880.3V1200.8M1141.28 880.3V1200.8M1203.41 880.3V1200.8M1265.55 880.3V1200.8M1327.68 880.3V1200.8M1389.82 880.3V1200.8M1451.96 880.3V1200.8M1514.09 880.3V1200.8M1576.23 880.3V1200.8M1638.36 880.3V1200.8M1700.5 880.3V1200.8M1762.64 880.3V1200.8M1824.77 880.3V1200.8M1886.91 880.3V1200.8M1949.04 880.3V1200.8M2011.18 880.3V1200.8M123.7 1161.36H2065.8M123.7 1122.32H2065.8M123.7 1083.27H2065.8M123.7 1044.23H2065.8M123.7 1005.19H2065.8M123.7 966.15H2065.8M123.7 927.11H2065.8M123.7 888.06H2065.8" stroke="#bdbdbd" stroke-width="1.7" fill="none"/>
</g>
<path d="M123.7 888.06H2065.8" stroke="#2e8b2e" stroke-width="1.7" stroke-dasharray="2.3 1.77" fill="none"/>
<path d="M123.7 1083.27H2065.8M123.7 1005.19H2065.8M123.7 927.11H2065.8" stroke="#ff0000" stroke-width="3" stroke-dasharray="14.4 10.67" stroke-dashoffset="0.8" fill="none"/>
<path d="M123.7 1161.36H2065.8" stroke="#ff0000" stroke-width="3" stroke-dasharray="14.1 13.76" stroke-dashoffset="0.9" fill="none"/>
<rect x="123.7" y="880.3" width="1942.1" height="320.5" fill="none" stroke="#000" stroke-width="1.95"/>
<path d="M147.1 1200.8v8.1M209.24 1200.8v8.1M271.37 1200.8v8.1M333.51 1200.8v8.1M395.64 1200.8v8.1M457.78 1200.8v8.1M519.92 1200.8v8.1M582.05 1200.8v8.1M644.19 1200.8v8.1M706.32 1200.8v8.1M768.46 1200.8v8.1M830.6 1200.8v8.1M892.73 1200.8v8.1M954.87 1200.8v8.1M1017 1200.8v8.1M1079.14 1200.8v8.1M1141.28 1200.8v8.1M1203.41 1200.8v8.1M1265.55 1200.8v8.1M1327.68 1200.8v8.1M1389.82 1200.8v8.1M1451.96 1200.8v8.1M1514.09 1200.8v8.1M1576.23 1200.8v8.1M1638.36 1200.8v8.1M1700.5 1200.8v8.1M1762.64 1200.8v8.1M1824.77 1200.8v8.1M1886.91 1200.8v8.1M1949.04 1200.8v8.1M2011.18 1200.8v8.1" stroke="#000" stroke-width="1.95" fill="none"/>
<g font-size="35.3" text-anchor="middle">
<text x="147.1" y="1242.8">0</text>
<text x="209.24" y="1242.8">2</text>
<text x="271.37" y="1242.8">4</text>
<text x="333.51" y="1242.8">6</text>
<text x="395.64" y="1242.8">8</text>
<text x="457.78" y="1242.8">10</text>
<text x="519.92" y="1242.8">12</text>
<text x="582.05" y="1242.8">14</text>
<text x="644.19" y="1242.8">16</text>
<text x="706.32" y="1242.8">18</text>
<text x="768.46" y="1242.8">20</text>
<text x="830.6" y="1242.8">22</text>
<text x="892.73" y="1242.8">24</text>
<text x="954.87" y="1242.8">26</text>
<text x="1017" y="1242.8">28</text>
<text x="1079.14" y="1242.8">30</text>
<text x="1141.28" y="1242.8">32</text>
<text x="1203.41" y="1242.8">34</text>
<text x="1265.55" y="1242.8">36</text>
<text x="1327.68" y="1242.8">38</text>
<text x="1389.82" y="1242.8">40</text>
<text x="1451.96" y="1242.8">42</text>
<text x="1514.09" y="1242.8">44</text>
<text x="1576.23" y="1242.8">46</text>
<text x="1638.36" y="1242.8">48</text>
<text x="1700.5" y="1242.8">50</text>
<text x="1762.64" y="1242.8">52</text>
<text x="1824.77" y="1242.8">54</text>
<text x="1886.91" y="1242.8">56</text>
<text x="1949.04" y="1242.8">58</text>
<text x="2011.18" y="1242.8">60</text>
</g>
<text x="1093.7" y="1288" font-size="37.2" text-anchor="middle">Stream #</text>
<path d="M123.7 1200.4h-8.1M123.7 1161.36h-8.1M123.7 1122.32h-8.1M123.7 1083.27h-8.1M123.7 1044.23h-8.1M123.7 1005.19h-8.1M123.7 966.15h-8.1M123.7 927.11h-8.1M123.7 888.06h-8.1" stroke="#000" stroke-width="1.95" fill="none"/>
<g font-size="31.3" text-anchor="end" letter-spacing="-0.65">
<text x="106.6" y="1211.91">0</text>
<text x="106.6" y="1172.87">45</text>
<text x="106.6" y="1133.82">90</text>
<text x="106.6" y="1094.78">135</text>
<text x="106.6" y="1055.74">180</text>
<text x="106.6" y="1016.7">225</text>
<text x="106.6" y="977.66">270</text>
<text x="106.6" y="938.61">315</text>
<text x="106.6" y="899.57">360</text>
</g>
<text transform="translate(31.2 1040.55) rotate(-90)" font-size="41.7" text-anchor="middle">Azimuth</text>
<text x="1094.9" y="1346.8" font-size="42.5" text-anchor="middle">(a)</text>
<clipPath id="c1414"><rect x="123.7" y="1414" width="1942.1" height="740"/></clipPath>
<g clip-path="url(#c1414)">
<g fill="#ff0000" stroke="#b00000" stroke-width="1.8">
<circle cx="178.17" cy="1977.1" r="13.05"/>
<circle cx="209.24" cy="2084.18" r="13.05"/>
<circle cx="240.3" cy="1830.25" r="13.05"/>
<circle cx="271.37" cy="1989.94" r="13.05"/>
<circle cx="302.44" cy="1919.64" r="13.05"/>
<circle cx="333.51" cy="1966.45" r="13.05"/>
<circle cx="364.58" cy="1867.98" r="13.05"/>
<circle cx="395.64" cy="1714.09" r="13.05"/>
<circle cx="426.71" cy="1901.17" r="13.05"/>
<circle cx="457.78" cy="1876.28" r="13.05"/>
<circle cx="488.85" cy="1876.91" r="13.05"/>
<circle cx="519.92" cy="1900.7" r="13.05"/>
<circle cx="550.98" cy="1914.17" r="13.05"/>
<circle cx="582.05" cy="1864.07" r="13.05"/>
<circle cx="613.12" cy="1825.4" r="13.05"/>
<circle cx="644.19" cy="2035.02" r="13.05"/>
<circle cx="675.26" cy="1875.97" r="13.05"/>
<circle cx="706.32" cy="1872.99" r="13.05"/>
<circle cx="737.39" cy="1926.22" r="13.05"/>
<circle cx="768.46" cy="1934.2" r="13.05"/>
<circle cx="799.53" cy="1918.24" r="13.05"/>
<circle cx="830.6" cy="1670.26" r="13.05"/>
<circle cx="861.66" cy="1953.93" r="13.05"/>
<circle cx="892.73" cy="1968.96" r="13.05"/>
<circle cx="923.8" cy="2107.97" r="13.05"/>
<circle cx="954.87" cy="2089.81" r="13.05"/>
<circle cx="985.94" cy="2082.3" r="13.05"/>
<circle cx="1017" cy="1904.15" r="13.05"/>
<circle cx="1048.07" cy="1949.23" r="13.05"/>
<circle cx="1079.14" cy="1819.3" r="13.05"/>
<circle cx="1110.21" cy="1924.5" r="13.05"/>
<circle cx="1141.28" cy="1846.85" r="13.05"/>
<circle cx="1172.34" cy="1853.27" r="13.05"/>
<circle cx="1203.41" cy="1700.79" r="13.05"/>
<circle cx="1234.48" cy="2009.66" r="13.05"/>
<circle cx="1265.55" cy="1846.85" r="13.05"/>
<circle cx="1296.62" cy="1893.03" r="13.05"/>
<circle cx="1327.68" cy="1972.09" r="13.05"/>
<circle cx="1358.75" cy="1888.49" r="13.05"/>
<circle cx="1389.82" cy="1940.47" r="13.05"/>
<circle cx="1420.89" cy="1926.38" r="13.05"/>
<circle cx="1451.96" cy="1969.58" r="13.05"/>
<circle cx="1483.02" cy="1838.71" r="13.05"/>
<circle cx="1514.09" cy="1707.83" r="13.05"/>
<circle cx="1545.16" cy="1991.81" r="13.05"/>
<circle cx="1576.23" cy="1863.44" r="13.05"/>
<circle cx="1607.3" cy="1954.09" r="13.05"/>
<circle cx="1638.36" cy="1708.77" r="13.05"/>
<circle cx="1669.43" cy="1677.77" r="13.05"/>
<circle cx="1700.5" cy="1817.42" r="13.05"/>
<circle cx="1731.57" cy="1879.41" r="13.05"/>
<circle cx="1762.64" cy="1718.48" r="13.05"/>
<circle cx="1793.7" cy="1913.54" r="13.05"/>
<circle cx="1824.77" cy="2033.61" r="13.05"/>
<circle cx="1855.84" cy="1751.35" r="13.05"/>
<circle cx="1886.91" cy="1889.74" r="13.05"/>
<circle cx="1917.98" cy="1917.3" r="13.05"/>
<circle cx="1949.04" cy="1904.77" r="13.05"/>
<circle cx="1980.11" cy="1893.19" r="13.05"/>
<circle cx="2011.18" cy="1940.15" r="13.05"/>
</g>
<g fill="#ffff00" stroke="#000" stroke-width="1.9">
<rect x="166.52" y="1975.15" width="23.3" height="23.3"/>
<rect x="197.59" y="2080.98" width="23.3" height="23.3"/>
<rect x="228.65" y="1839.27" width="23.3" height="23.3"/>
<rect x="259.72" y="2009.91" width="23.3" height="23.3"/>
<rect x="290.79" y="1931.63" width="23.3" height="23.3"/>
<rect x="321.86" y="1982.2" width="23.3" height="23.3"/>
<rect x="352.93" y="1897.51" width="23.3" height="23.3"/>
<rect x="383.99" y="1751.29" width="23.3" height="23.3"/>
<rect x="415.06" y="1911.28" width="23.3" height="23.3"/>
<rect x="446.13" y="1905.96" width="23.3" height="23.3"/>
<rect x="477.2" y="1907.52" width="23.3" height="23.3"/>
<rect x="508.27" y="1911.6" width="23.3" height="23.3"/>
<rect x="539.33" y="1939.77" width="23.3" height="23.3"/>
<rect x="570.4" y="1895" width="23.3" height="23.3"/>
<rect x="601.47" y="1849.91" width="23.3" height="23.3"/>
<rect x="632.54" y="2030.1" width="23.3" height="23.3"/>
<rect x="663.61" y="1913.32" width="23.3" height="23.3"/>
<rect x="694.67" y="1915.04" width="23.3" height="23.3"/>
<rect x="725.74" y="1942.91" width="23.3" height="23.3"/>
<rect x="756.81" y="1976.72" width="23.3" height="23.3"/>
<rect x="787.88" y="1934.45" width="23.3" height="23.3"/>
<rect x="818.95" y="1821.58" width="23.3" height="23.3"/>
<rect x="850.01" y="1962" width="23.3" height="23.3"/>
<rect x="881.08" y="1969.52" width="23.3" height="23.3"/>
<rect x="912.15" y="2097.26" width="23.3" height="23.3"/>
<rect x="943.22" y="2080.04" width="23.3" height="23.3"/>
<rect x="974.29" y="2074.72" width="23.3" height="23.3"/>
<rect x="1005.35" y="1907.84" width="23.3" height="23.3"/>
<rect x="1036.42" y="1958.25" width="23.3" height="23.3"/>
<rect x="1067.49" y="1823.93" width="23.3" height="23.3"/>
<rect x="1098.56" y="1936.96" width="23.3" height="23.3"/>
<rect x="1129.63" y="1889.68" width="23.3" height="23.3"/>
<rect x="1160.69" y="1906.59" width="23.3" height="23.3"/>
<rect x="1191.76" y="1784.63" width="23.3" height="23.3"/>
<rect x="1222.83" y="2044.35" width="23.3" height="23.3"/>
<rect x="1253.9" y="1887.8" width="23.3" height="23.3"/>
<rect x="1284.97" y="1920.99" width="23.3" height="23.3"/>
<rect x="1316.03" y="1969.05" width="23.3" height="23.3"/>
<rect x="1347.1" y="1893.75" width="23.3" height="23.3"/>
<rect x="1378.17" y="1941.18" width="23.3" height="23.3"/>
<rect x="1409.24" y="1928.82" width="23.3" height="23.3"/>
<rect x="1440.31" y="1976.88" width="23.3" height="23.3"/>
<rect x="1471.37" y="1892.03" width="23.3" height="23.3"/>
<rect x="1502.44" y="1731.41" width="23.3" height="23.3"/>
<rect x="1533.51" y="2008.97" width="23.3" height="23.3"/>
<rect x="1564.58" y="1892.18" width="23.3" height="23.3"/>
<rect x="1595.65" y="1962.63" width="23.3" height="23.3"/>
<rect x="1626.71" y="1828.94" width="23.3" height="23.3"/>
<rect x="1657.78" y="1823.93" width="23.3" height="23.3"/>
<rect x="1688.85" y="1885.92" width="23.3" height="23.3"/>
<rect x="1719.92" y="1905.18" width="23.3" height="23.3"/>
<rect x="1750.99" y="1834.26" width="23.3" height="23.3"/>
<rect x="1782.05" y="1963.57" width="23.3" height="23.3"/>
<rect x="1813.12" y="2063.29" width="23.3" height="23.3"/>
<rect x="1844.19" y="1854.3" width="23.3" height="23.3"/>
<rect x="1875.26" y="1911.75" width="23.3" height="23.3"/>
<rect x="1906.33" y="1929.44" width="23.3" height="23.3"/>
<rect x="1937.39" y="1920.36" width="23.3" height="23.3"/>
<rect x="1968.46" y="1915.04" width="23.3" height="23.3"/>
<rect x="1999.53" y="1946.98" width="23.3" height="23.3"/>
</g>
<path d="M178.17 1969.2L195.77 1986.8L178.17 2004.4L160.57 1986.8ZM209.24 2075.03L226.84 2092.63L209.24 2110.23L191.64 2092.63ZM240.3 1833.63L257.9 1851.23L240.3 1868.83L222.7 1851.23ZM271.37 2004.12L288.97 2021.72L271.37 2039.32L253.77 2021.72ZM302.44 1933.2L320.04 1950.8L302.44 1968.4L284.84 1950.8ZM333.51 1979.22L351.11 1996.82L333.51 2014.42L315.91 1996.82ZM364.58 1897.19L382.18 1914.79L364.58 1932.39L346.98 1914.79ZM395.64 1745.34L413.24 1762.94L395.64 1780.54L378.04 1762.94ZM426.71 1905.8L444.31 1923.4L426.71 1941L409.11 1923.4ZM457.78 1904.08L475.38 1921.68L457.78 1939.28L440.18 1921.68ZM488.85 1911.59L506.45 1929.19L488.85 1946.79L471.25 1929.19ZM519.92 1905.65L537.52 1923.25L519.92 1940.85L502.32 1923.25ZM550.98 1934.14L568.58 1951.74L550.98 1969.34L533.38 1951.74ZM582.05 1900.95L599.65 1918.55L582.05 1936.15L564.45 1918.55ZM613.12 1843.96L630.72 1861.56L613.12 1879.16L595.52 1861.56ZM644.19 2024.15L661.79 2041.75L644.19 2059.35L626.59 2041.75ZM675.26 1912.22L692.86 1929.82L675.26 1947.42L657.66 1929.82ZM706.32 1910.65L723.92 1928.25L706.32 1945.85L688.72 1928.25ZM737.39 1952.45L754.99 1970.05L737.39 1987.65L719.79 1970.05ZM768.46 1983.61L786.06 2001.21L768.46 2018.81L750.86 2001.21ZM799.53 1931.63L817.13 1949.23L799.53 1966.83L781.93 1949.23ZM830.6 1815.63L848.2 1833.23L830.6 1850.83L813 1833.23ZM861.66 1960.12L879.26 1977.72L861.66 1995.32L844.06 1977.72ZM892.73 1963.1L910.33 1980.7L892.73 1998.3L875.13 1980.7ZM923.8 2091.31L941.4 2108.91L923.8 2126.51L906.2 2108.91ZM954.87 2074.09L972.47 2091.69L954.87 2109.29L937.27 2091.69ZM985.94 2068.93L1003.54 2086.53L985.94 2104.13L968.34 2086.53ZM1017 1908.15L1034.6 1925.75L1017 1943.35L999.4 1925.75ZM1048.07 1954.49L1065.67 1972.09L1048.07 1989.69L1030.47 1972.09ZM1079.14 1826.43L1096.74 1844.03L1079.14 1861.63L1061.54 1844.03ZM1110.21 1933.51L1127.81 1951.11L1110.21 1968.71L1092.61 1951.11ZM1141.28 1884.04L1158.88 1901.64L1141.28 1919.24L1123.68 1901.64ZM1172.34 1900.64L1189.94 1918.24L1172.34 1935.84L1154.74 1918.24ZM1203.41 1778.84L1221.01 1796.44L1203.41 1814.04L1185.81 1796.44ZM1234.48 2038.56L1252.08 2056.16L1234.48 2073.76L1216.88 2056.16ZM1265.55 1882.16L1283.15 1899.76L1265.55 1917.36L1247.95 1899.76ZM1296.62 1915.19L1314.22 1932.79L1296.62 1950.39L1279.02 1932.79ZM1327.68 1963.26L1345.28 1980.86L1327.68 1998.46L1310.08 1980.86ZM1358.75 1891.87L1376.35 1909.47L1358.75 1927.07L1341.15 1909.47ZM1389.82 1936.02L1407.42 1953.62L1389.82 1971.22L1372.22 1953.62ZM1420.89 1923.34L1438.49 1940.94L1420.89 1958.54L1403.29 1940.94ZM1451.96 1974.84L1469.56 1992.44L1451.96 2010.04L1434.36 1992.44ZM1483.02 1886.08L1500.62 1903.68L1483.02 1921.28L1465.42 1903.68ZM1514.09 1725.46L1531.69 1743.06L1514.09 1760.66L1496.49 1743.06ZM1545.16 2007.72L1562.76 2025.32L1545.16 2042.92L1527.56 2025.32ZM1576.23 1886.23L1593.83 1903.83L1576.23 1921.43L1558.63 1903.83ZM1607.3 1956.99L1624.9 1974.59L1607.3 1992.19L1589.7 1974.59ZM1638.36 1823.3L1655.96 1840.9L1638.36 1858.5L1620.76 1840.9ZM1669.43 1818.29L1687.03 1835.89L1669.43 1853.49L1651.83 1835.89ZM1700.5 1882.79L1718.1 1900.39L1700.5 1917.99L1682.9 1900.39ZM1731.57 1899.23L1749.17 1916.83L1731.57 1934.43L1713.97 1916.83ZM1762.64 1849.29L1780.24 1866.89L1762.64 1884.49L1745.04 1866.89ZM1793.7 1963.88L1811.3 1981.48L1793.7 1999.08L1776.1 1981.48ZM1824.77 2057.34L1842.37 2074.94L1824.77 2092.54L1807.17 2074.94ZM1855.84 1863.53L1873.44 1881.13L1855.84 1898.73L1838.24 1881.13ZM1886.91 1906.9L1904.51 1924.5L1886.91 1942.1L1869.31 1924.5ZM1917.98 1926.94L1935.58 1944.54L1917.98 1962.14L1900.38 1944.54ZM1949.04 1916.92L1966.64 1934.52L1949.04 1952.12L1931.44 1934.52ZM1980.11 1911.91L1997.71 1929.51L1980.11 1947.11L1962.51 1929.51ZM2011.18 1941.03L2028.78 1958.63L2011.18 1976.23L1993.58 1958.63Z" fill="none" stroke="#00008b" stroke-width="2.1" stroke-linejoin="miter"/>
<path d="M166.17 1882.75L190.17 1882.75L178.17 1906.75ZM197.24 2047.44L221.24 2047.44L209.24 2071.44ZM228.3 1670.47L252.3 1670.47L240.3 1694.47ZM259.37 1941.62L283.37 1941.62L271.37 1965.62ZM290.44 1832.66L314.44 1832.66L302.44 1856.66ZM321.51 1906.24L345.51 1906.24L333.51 1930.24ZM352.58 1793.83L376.58 1793.83L364.58 1817.83ZM383.64 1545.54L407.64 1545.54L395.64 1569.54ZM414.71 1789.14L438.71 1789.14L426.71 1813.14ZM445.78 1805.1L469.78 1805.1L457.78 1829.1ZM476.85 1824.52L500.85 1824.52L488.85 1848.52ZM507.92 1780.68L531.92 1780.68L519.92 1804.68ZM538.98 1837.67L562.98 1837.67L550.98 1861.67ZM570.05 1815.44L594.05 1815.44L582.05 1839.44ZM601.12 1701.78L625.12 1701.78L613.12 1725.78ZM632.19 1997.35L656.19 1997.35L644.19 2021.35ZM663.26 1848.63L687.26 1848.63L675.26 1872.63ZM694.32 1853.63L718.32 1853.63L706.32 1877.63ZM725.39 1914.38L749.39 1914.38L737.39 1938.38ZM756.46 1921.58L780.46 1921.58L768.46 1945.58ZM787.53 1902.48L811.53 1902.48L799.53 1926.48ZM818.6 1652.94L842.6 1652.94L830.6 1676.94ZM849.66 1939.74L873.66 1939.74L861.66 1963.74ZM880.73 1879.62L904.73 1879.62L892.73 1903.62ZM911.8 2088.77L935.8 2088.77L923.8 2112.77ZM942.87 2063.41L966.87 2063.41L954.87 2087.41ZM973.94 2048.07L997.94 2048.07L985.94 2072.07ZM1005 1786.63L1029 1786.63L1017 1810.63ZM1036.07 1879.78L1060.07 1879.78L1048.07 1903.78ZM1067.14 1665.77L1091.14 1665.77L1079.14 1689.77ZM1098.21 1848L1122.21 1848L1110.21 1872ZM1129.28 1806.83L1153.28 1806.83L1141.28 1830.83ZM1160.34 1781.47L1184.34 1781.47L1172.34 1805.47ZM1191.41 1612.55L1215.41 1612.55L1203.41 1636.55ZM1222.48 1996.72L1246.48 1996.72L1234.48 2020.72ZM1253.55 1821.54L1277.55 1821.54L1265.55 1845.54ZM1284.62 1870.54L1308.62 1870.54L1296.62 1894.54ZM1315.68 1874.61L1339.68 1874.61L1327.68 1898.61ZM1346.75 1748.43L1370.75 1748.43L1358.75 1772.43ZM1377.82 1845.49L1401.82 1845.49L1389.82 1869.49ZM1408.89 1808.08L1432.89 1808.08L1420.89 1832.08ZM1439.96 1888.08L1463.96 1888.08L1451.96 1912.08ZM1471.02 1798.53L1495.02 1798.53L1483.02 1822.53ZM1502.09 1522.38L1526.09 1522.38L1514.09 1546.38ZM1533.16 1979.19L1557.16 1979.19L1545.16 2003.19ZM1564.23 1828.27L1588.23 1828.27L1576.23 1852.27ZM1595.3 1931.44L1619.3 1931.44L1607.3 1955.44ZM1626.36 1657.32L1650.36 1657.32L1638.36 1681.32ZM1657.43 1658.1L1681.43 1658.1L1669.43 1682.1ZM1688.5 1792.11L1712.5 1792.11L1700.5 1816.11ZM1719.57 1854.89L1743.57 1854.89L1731.57 1878.89ZM1750.64 1696.15L1774.64 1696.15L1762.64 1720.15ZM1781.7 1889.17L1805.7 1889.17L1793.7 1913.17ZM1812.77 2020.83L1836.77 2020.83L1824.77 2044.83ZM1843.84 1734.66L1867.84 1734.66L1855.84 1758.66ZM1874.91 1870.86L1898.91 1870.86L1886.91 1894.86ZM1905.98 1899.35L1929.98 1899.35L1917.98 1923.35ZM1937.04 1886.51L1961.04 1886.51L1949.04 1910.51ZM1968.11 1873.2L1992.11 1873.2L1980.11 1897.2ZM1999.18 1922.52L2023.18 1922.52L2011.18 1946.52Z" fill="#cccccc" stroke="#000" stroke-width="2.5" stroke-linejoin="miter"/>
</g>
<path d="M147.1 1414V2154M209.24 1414V2154M271.37 1414V2154M333.51 1414V2154M395.64 1414V2154M457.78 1414V2154M519.92 1414V2154M582.05 1414V2154M644.19 1414V2154M706.32 1414V2154M768.46 1414V2154M830.6 1414V2154M892.73 1414V2154M954.87 1414V2154M1017 1414V2154M1079.14 1414V2154M1141.28 1414V2154M1203.41 1414V2154M1265.55 1414V2154M1327.68 1414V2154M1389.82 1414V2154M1451.96 1414V2154M1514.09 1414V2154M1576.23 1414V2154M1638.36 1414V2154M1700.5 1414V2154M1762.64 1414V2154M1824.77 1414V2154M1886.91 1414V2154M1949.04 1414V2154M2011.18 1414V2154" stroke="#a6a6a6" stroke-width="1.9" fill="none"/>
<path d="M123.7 2091.38H2065.8M123.7 2028.76H2065.8M123.7 1966.14H2065.8M123.7 1903.52H2065.8M123.7 1840.9H2065.8M123.7 1778.28H2065.8M123.7 1715.66H2065.8M123.7 1653.04H2065.8M123.7 1590.42H2065.8M123.7 1527.8H2065.8M123.7 1465.18H2065.8" stroke="#a6a6a6" stroke-width="1.9" fill="none"/>
<path d="M178.17 1986.8V1894.75M209.24 2092.63V2059.44M240.3 1851.23V1682.47M271.37 2021.72V1953.62M302.44 1950.8V1844.66M333.51 1996.82V1918.24M364.58 1914.79V1805.83M395.64 1762.94V1557.54M426.71 1923.4V1801.14M457.78 1921.68V1817.1M488.85 1929.19V1836.52M519.92 1923.25V1792.68M550.98 1951.74V1849.67M582.05 1918.55V1827.44M613.12 1861.56V1713.78M644.19 2041.75V2009.35M675.26 1929.82V1860.63M706.32 1928.25V1865.63M737.39 1970.05V1926.38M768.46 2001.21V1933.58M799.53 1949.23V1914.48M830.6 1833.23V1664.94M861.66 1977.72V1951.74M892.73 1980.7V1891.62M923.8 2108.91V2100.77M954.87 2091.69V2075.41M985.94 2086.53V2060.07M1017 1925.75V1798.63M1048.07 1972.09V1891.78M1079.14 1844.03V1677.77M1110.21 1951.11V1860M1141.28 1901.64V1818.83M1172.34 1918.24V1793.47M1203.41 1796.44V1624.55M1234.48 2056.16V2008.72M1265.55 1899.76V1833.54M1296.62 1932.79V1882.54M1327.68 1980.86V1886.61M1358.75 1909.47V1760.43M1389.82 1953.62V1857.49M1420.89 1940.94V1820.08M1451.96 1992.44V1900.08M1483.02 1903.68V1810.53M1514.09 1743.06V1534.38M1545.16 2025.32V1991.19M1576.23 1903.83V1840.27M1607.3 1974.59V1943.44M1638.36 1840.9V1669.32M1669.43 1835.89V1670.1M1700.5 1900.39V1804.11M1731.57 1916.83V1866.89M1762.64 1866.89V1708.15M1793.7 1981.48V1901.17M1824.77 2074.94V2032.83M1855.84 1881.13V1746.66M1886.91 1924.5V1882.86M1917.98 1944.54V1911.35M1949.04 1934.52V1898.51M1980.11 1929.51V1885.2M2011.18 1958.63V1934.52" stroke="#7a7a7a" stroke-width="1.6" fill="none"/>
<rect x="123.7" y="1414" width="1942.1" height="740" fill="none" stroke="#000" stroke-width="1.95"/>
<path d="M147.1 2154v8.1M209.24 2154v8.1M271.37 2154v8.1M333.51 2154v8.1M395.64 2154v8.1M457.78 2154v8.1M519.92 2154v8.1M582.05 2154v8.1M644.19 2154v8.1M706.32 2154v8.1M768.46 2154v8.1M830.6 2154v8.1M892.73 2154v8.1M954.87 2154v8.1M1017 2154v8.1M1079.14 2154v8.1M1141.28 2154v8.1M1203.41 2154v8.1M1265.55 2154v8.1M1327.68 2154v8.1M1389.82 2154v8.1M1451.96 2154v8.1M1514.09 2154v8.1M1576.23 2154v8.1M1638.36 2154v8.1M1700.5 2154v8.1M1762.64 2154v8.1M1824.77 2154v8.1M1886.91 2154v8.1M1949.04 2154v8.1M2011.18 2154v8.1" stroke="#000" stroke-width="1.95" fill="none"/>
<g font-size="35.3" text-anchor="middle">
<text x="147.1" y="2196">0</text>
<text x="209.24" y="2196">2</text>
<text x="271.37" y="2196">4</text>
<text x="333.51" y="2196">6</text>
<text x="395.64" y="2196">8</text>
<text x="457.78" y="2196">10</text>
<text x="519.92" y="2196">12</text>
<text x="582.05" y="2196">14</text>
<text x="644.19" y="2196">16</text>
<text x="706.32" y="2196">18</text>
<text x="768.46" y="2196">20</text>
<text x="830.6" y="2196">22</text>
<text x="892.73" y="2196">24</text>
<text x="954.87" y="2196">26</text>
<text x="1017" y="2196">28</text>
<text x="1079.14" y="2196">30</text>
<text x="1141.28" y="2196">32</text>
<text x="1203.41" y="2196">34</text>
<text x="1265.55" y="2196">36</text>
<text x="1327.68" y="2196">38</text>
<text x="1389.82" y="2196">40</text>
<text x="1451.96" y="2196">42</text>
<text x="1514.09" y="2196">44</text>
<text x="1576.23" y="2196">46</text>
<text x="1638.36" y="2196">48</text>
<text x="1700.5" y="2196">50</text>
<text x="1762.64" y="2196">52</text>
<text x="1824.77" y="2196">54</text>
<text x="1886.91" y="2196">56</text>
<text x="1949.04" y="2196">58</text>
<text x="2011.18" y="2196">60</text>
</g>
<text x="1093.7" y="2241.2" font-size="37.2" text-anchor="middle">Stream #</text>
<path d="M123.7 2154h-8.1M123.7 2091.38h-8.1M123.7 2028.76h-8.1M123.7 1966.14h-8.1M123.7 1903.52h-8.1M123.7 1840.9h-8.1M123.7 1778.28h-8.1M123.7 1715.66h-8.1M123.7 1653.04h-8.1M123.7 1590.42h-8.1M123.7 1527.8h-8.1M123.7 1465.18h-8.1" stroke="#000" stroke-width="1.95" fill="none"/>
<g font-size="39.7" text-anchor="end">
<text x="107.5" y="2169.47">6</text>
<text x="107.5" y="2106.85">8</text>
<text x="107.5" y="2044.23">10</text>
<text x="107.5" y="1981.61">12</text>
<text x="107.5" y="1918.99">14</text>
<text x="107.5" y="1856.37">16</text>
<text x="107.5" y="1793.75">18</text>
<text x="107.5" y="1731.13">20</text>
<text x="107.5" y="1668.51">22</text>
<text x="107.5" y="1605.89">24</text>
<text x="107.5" y="1543.27">26</text>
<text x="107.5" y="1480.65">28</text>
</g>
<text x="1094.7" y="1400.4" font-size="41.83" text-anchor="middle">Summer average of mean stream temperature under riparian scenarios</text>
<text transform="translate(38.9 1953.8) rotate(-90)" font-size="41.7">Temperature (<tspan font-size="30.3" dx="-0.96" dy="-5.7">˚</tspan><tspan dx="-2.76" dy="5.7">C)</tspan></text>
<rect x="430" y="1436.8" width="712.9" height="186.6" rx="5" ry="5" fill="#fff" fill-opacity="0.8" stroke="#686868" stroke-width="1.8"/>
<circle cx="472.1" cy="1463.8" r="13.05" fill="#ff0000" stroke="#b00000" stroke-width="1.8"/>
<path d="M472.1 1490.7L489.7 1508.3L472.1 1525.9L454.5 1508.3Z" fill="none" stroke="#00008b" stroke-width="2.1"/>
<rect x="460.45" y="1541.15" width="23.3" height="23.3" fill="#ffff00" stroke="#000" stroke-width="1.9"/>
<path d="M460.1 1585L484.1 1585L472.1 1609Z" fill="#cccccc" stroke="#000" stroke-width="2.5"/>
<g font-size="30.25">
<text x="526.2" y="1471.4">Scenario 1: Current riparian vegetation</text>
<text x="526.2" y="1515.9">Scenario 2: Full riparian restoration</text>
<text x="526.2" y="1560.5">Scenario 3: Efficient riparian restoration</text>
<text x="526.2" y="1605.1">Scenario 4: No-riparian vegetation</text>
</g>
<g fill="#999999" stroke="#000" stroke-width="2.4">
<rect x="170.02" y="2436.65" width="16.3" height="132.25"/>
<rect x="201.09" y="2420.95" width="16.3" height="147.95"/>
<rect x="232.15" y="2396.57" width="16.3" height="172.33"/>
<rect x="263.22" y="2406.98" width="16.3" height="161.92"/>
<rect x="294.29" y="2468.49" width="16.3" height="100.41"/>
<rect x="325.36" y="2456.87" width="16.3" height="112.03"/>
<rect x="356.43" y="2467.88" width="16.3" height="101.02"/>
<rect x="387.49" y="2393.53" width="16.3" height="175.37"/>
<rect x="418.56" y="2389.11" width="16.3" height="179.79"/>
<rect x="449.63" y="2451.57" width="16.3" height="117.33"/>
<rect x="480.7" y="2458.43" width="16.3" height="110.47"/>
<rect x="511.77" y="2408.45" width="16.3" height="160.45"/>
<rect x="542.83" y="2406.98" width="16.3" height="161.92"/>
<rect x="573.9" y="2453.66" width="16.3" height="115.24"/>
<rect x="604.97" y="2449.14" width="16.3" height="119.76"/>
<rect x="636.04" y="2483.94" width="16.3" height="84.96"/>
<rect x="667.11" y="2395.61" width="16.3" height="173.29"/>
<rect x="698.17" y="2432.83" width="16.3" height="136.07"/>
<rect x="729.24" y="2454.26" width="16.3" height="114.64"/>
<rect x="760.31" y="2475.35" width="16.3" height="93.55"/>
<rect x="791.38" y="2508.32" width="16.3" height="60.58"/>
<rect x="822.45" y="2425.11" width="16.3" height="143.79"/>
<rect x="853.51" y="2469.97" width="16.3" height="98.93"/>
<rect x="884.58" y="2418.87" width="16.3" height="150.03"/>
<rect x="915.65" y="2399.26" width="16.3" height="169.64"/>
<rect x="946.72" y="2437.87" width="16.3" height="131.03"/>
<rect x="977.79" y="2405.76" width="16.3" height="163.14"/>
<rect x="1008.85" y="2460.77" width="16.3" height="108.13"/>
<rect x="1039.92" y="2414.09" width="16.3" height="154.81"/>
<rect x="1070.99" y="2454.26" width="16.3" height="114.64"/>
<rect x="1102.06" y="2417.74" width="16.3" height="151.16"/>
<rect x="1133.13" y="2434.92" width="16.3" height="133.98"/>
<rect x="1164.19" y="2414.35" width="16.3" height="154.55"/>
<rect x="1195.26" y="2443.25" width="16.3" height="125.65"/>
<rect x="1226.33" y="2378.44" width="16.3" height="190.46"/>
<rect x="1257.4" y="2376.35" width="16.3" height="192.55"/>
<rect x="1288.47" y="2403.94" width="16.3" height="164.96"/>
<rect x="1319.53" y="2443.25" width="16.3" height="125.65"/>
<rect x="1350.6" y="2336.18" width="16.3" height="232.72"/>
<rect x="1381.67" y="2421.21" width="16.3" height="147.69"/>
<rect x="1412.74" y="2388.85" width="16.3" height="180.05"/>
<rect x="1443.81" y="2347.81" width="16.3" height="221.09"/>
<rect x="1474.87" y="2420.95" width="16.3" height="147.95"/>
<rect x="1505.94" y="2392.66" width="16.3" height="176.24"/>
<rect x="1537.01" y="2343.64" width="16.3" height="225.26"/>
<rect x="1568.08" y="2401.86" width="16.3" height="167.04"/>
<rect x="1599.15" y="2406.02" width="16.3" height="162.88"/>
<rect x="1630.21" y="2390.32" width="16.3" height="178.58"/>
<rect x="1661.28" y="2382.86" width="16.3" height="186.04"/>
<rect x="1692.35" y="2338.61" width="16.3" height="230.29"/>
<rect x="1723.42" y="2399.78" width="16.3" height="169.12"/>
<rect x="1754.49" y="2354.32" width="16.3" height="214.58"/>
<rect x="1785.55" y="2388.5" width="16.3" height="180.4"/>
<rect x="1816.62" y="2417.39" width="16.3" height="151.51"/>
<rect x="1847.69" y="2487.23" width="16.3" height="81.67"/>
<rect x="1878.76" y="2443.85" width="16.3" height="125.05"/>
<rect x="1909.83" y="2463.11" width="16.3" height="105.79"/>
<rect x="1940.89" y="2449.14" width="16.3" height="119.76"/>
<rect x="1971.96" y="2416.78" width="16.3" height="152.12"/>
<rect x="2003.03" y="2439.95" width="16.3" height="128.95"/>
</g>
<path d="M147.1 2248.6V2569.1M209.24 2248.6V2569.1M271.37 2248.6V2569.1M333.51 2248.6V2569.1M395.64 2248.6V2569.1M457.78 2248.6V2569.1M519.92 2248.6V2569.1M582.05 2248.6V2569.1M644.19 2248.6V2569.1M706.32 2248.6V2569.1M768.46 2248.6V2569.1M830.6 2248.6V2569.1M892.73 2248.6V2569.1M954.87 2248.6V2569.1M1017 2248.6V2569.1M1079.14 2248.6V2569.1M1141.28 2248.6V2569.1M1203.41 2248.6V2569.1M1265.55 2248.6V2569.1M1327.68 2248.6V2569.1M1389.82 2248.6V2569.1M1451.96 2248.6V2569.1M1514.09 2248.6V2569.1M1576.23 2248.6V2569.1M1638.36 2248.6V2569.1M1700.5 2248.6V2569.1M1762.64 2248.6V2569.1M1824.77 2248.6V2569.1M1886.91 2248.6V2569.1M1949.04 2248.6V2569.1M2011.18 2248.6V2569.1" stroke="#a6a6a6" stroke-width="1.9" fill="none"/>
<path d="M123.7 2529.66H2065.8M123.7 2490.62H2065.8M123.7 2451.57H2065.8M123.7 2412.53H2065.8M123.7 2373.49H2065.8M123.7 2334.45H2065.8M123.7 2295.41H2065.8M123.7 2256.36H2065.8" stroke="#a6a6a6" stroke-width="1.9" fill="none"/>
<clipPath id="b2248"><rect x="168.82" y="2435.45" width="18.7" height="133.65"/><rect x="199.89" y="2419.75" width="18.7" height="149.35"/><rect x="230.95" y="2395.37" width="18.7" height="173.73"/><rect x="262.02" y="2405.78" width="18.7" height="163.32"/><rect x="293.09" y="2467.29" width="18.7" height="101.81"/><rect x="324.16" y="2455.67" width="18.7" height="113.43"/><rect x="355.23" y="2466.68" width="18.7" height="102.42"/><rect x="386.29" y="2392.33" width="18.7" height="176.77"/><rect x="417.36" y="2387.91" width="18.7" height="181.19"/><rect x="448.43" y="2450.37" width="18.7" height="118.73"/><rect x="479.5" y="2457.23" width="18.7" height="111.87"/><rect x="510.57" y="2407.25" width="18.7" height="161.85"/><rect x="541.63" y="2405.78" width="18.7" height="163.32"/><rect x="572.7" y="2452.46" width="18.7" height="116.64"/><rect x="603.77" y="2447.94" width="18.7" height="121.16"/><rect x="634.84" y="2482.74" width="18.7" height="86.36"/><rect x="665.91" y="2394.41" width="18.7" height="174.69"/><rect x="696.97" y="2431.63" width="18.7" height="137.47"/><rect x="728.04" y="2453.06" width="18.7" height="116.04"/><rect x="759.11" y="2474.15" width="18.7" height="94.95"/><rect x="790.18" y="2507.12" width="18.7" height="61.98"/><rect x="821.25" y="2423.91" width="18.7" height="145.19"/><rect x="852.31" y="2468.77" width="18.7" height="100.33"/><rect x="883.38" y="2417.67" width="18.7" height="151.43"/><rect x="914.45" y="2398.06" width="18.7" height="171.04"/><rect x="945.52" y="2436.67" width="18.7" height="132.43"/><rect x="976.59" y="2404.56" width="18.7" height="164.54"/><rect x="1007.65" y="2459.57" width="18.7" height="109.53"/><rect x="1038.72" y="2412.89" width="18.7" height="156.21"/><rect x="1069.79" y="2453.06" width="18.7" height="116.04"/><rect x="1100.86" y="2416.54" width="18.7" height="152.56"/><rect x="1131.93" y="2433.72" width="18.7" height="135.38"/><rect x="1162.99" y="2413.15" width="18.7" height="155.95"/><rect x="1194.06" y="2442.05" width="18.7" height="127.05"/><rect x="1225.13" y="2377.24" width="18.7" height="191.86"/><rect x="1256.2" y="2375.15" width="18.7" height="193.95"/><rect x="1287.27" y="2402.74" width="18.7" height="166.36"/><rect x="1318.33" y="2442.05" width="18.7" height="127.05"/><rect x="1349.4" y="2334.98" width="18.7" height="234.12"/><rect x="1380.47" y="2420.01" width="18.7" height="149.09"/><rect x="1411.54" y="2387.65" width="18.7" height="181.45"/><rect x="1442.61" y="2346.61" width="18.7" height="222.49"/><rect x="1473.67" y="2419.75" width="18.7" height="149.35"/><rect x="1504.74" y="2391.46" width="18.7" height="177.64"/><rect x="1535.81" y="2342.44" width="18.7" height="226.66"/><rect x="1566.88" y="2400.66" width="18.7" height="168.44"/><rect x="1597.95" y="2404.82" width="18.7" height="164.28"/><rect x="1629.01" y="2389.12" width="18.7" height="179.98"/><rect x="1660.08" y="2381.66" width="18.7" height="187.44"/><rect x="1691.15" y="2337.41" width="18.7" height="231.69"/><rect x="1722.22" y="2398.58" width="18.7" height="170.52"/><rect x="1753.29" y="2353.12" width="18.7" height="215.98"/><rect x="1784.35" y="2387.3" width="18.7" height="181.8"/><rect x="1815.42" y="2416.19" width="18.7" height="152.91"/><rect x="1846.49" y="2486.03" width="18.7" height="83.07"/><rect x="1877.56" y="2442.65" width="18.7" height="126.45"/><rect x="1908.63" y="2461.91" width="18.7" height="107.19"/><rect x="1939.69" y="2447.94" width="18.7" height="121.16"/><rect x="1970.76" y="2415.58" width="18.7" height="153.52"/><rect x="2001.83" y="2438.75" width="18.7" height="130.35"/></clipPath>
<g clip-path="url(#b2248)">
<path d="M147.1 2248.6V2569.1M209.24 2248.6V2569.1M271.37 2248.6V2569.1M333.51 2248.6V2569.1M395.64 2248.6V2569.1M457.78 2248.6V2569.1M519.92 2248.6V2569.1M582.05 2248.6V2569.1M644.19 2248.6V2569.1M706.32 2248.6V2569.1M768.46 2248.6V2569.1M830.6 2248.6V2569.1M892.73 2248.6V2569.1M954.87 2248.6V2569.1M1017 2248.6V2569.1M1079.14 2248.6V2569.1M1141.28 2248.6V2569.1M1203.41 2248.6V2569.1M1265.55 2248.6V2569.1M1327.68 2248.6V2569.1M1389.82 2248.6V2569.1M1451.96 2248.6V2569.1M1514.09 2248.6V2569.1M1576.23 2248.6V2569.1M1638.36 2248.6V2569.1M1700.5 2248.6V2569.1M1762.64 2248.6V2569.1M1824.77 2248.6V2569.1M1886.91 2248.6V2569.1M1949.04 2248.6V2569.1M2011.18 2248.6V2569.1M123.7 2529.66H2065.8M123.7 2490.62H2065.8M123.7 2451.57H2065.8M123.7 2412.53H2065.8M123.7 2373.49H2065.8M123.7 2334.45H2065.8M123.7 2295.41H2065.8M123.7 2256.36H2065.8" stroke="#bdbdbd" stroke-width="1.7" fill="none"/>
</g>
<path d="M123.7 2256.36H2065.8" stroke="#2e8b2e" stroke-width="1.7" stroke-dasharray="2.3 1.77" fill="none"/>
<path d="M123.7 2451.57H2065.8M123.7 2373.49H2065.8M123.7 2295.41H2065.8" stroke="#ff0000" stroke-width="3" stroke-dasharray="14.4 10.67" stroke-dashoffset="0.8" fill="none"/>
<path d="M123.7 2529.66H2065.8" stroke="#ff0000" stroke-width="3" stroke-dasharray="14.1 13.76" stroke-dashoffset="0.9" fill="none"/>
<rect x="123.7" y="2248.6" width="1942.1" height="320.5" fill="none" stroke="#000" stroke-width="1.95"/>
<path d="M147.1 2569.1v8.1M209.24 2569.1v8.1M271.37 2569.1v8.1M333.51 2569.1v8.1M395.64 2569.1v8.1M457.78 2569.1v8.1M519.92 2569.1v8.1M582.05 2569.1v8.1M644.19 2569.1v8.1M706.32 2569.1v8.1M768.46 2569.1v8.1M830.6 2569.1v8.1M892.73 2569.1v8.1M954.87 2569.1v8.1M1017 2569.1v8.1M1079.14 2569.1v8.1M1141.28 2569.1v8.1M1203.41 2569.1v8.1M1265.55 2569.1v8.1M1327.68 2569.1v8.1M1389.82 2569.1v8.1M1451.96 2569.1v8.1M1514.09 2569.1v8.1M1576.23 2569.1v8.1M1638.36 2569.1v8.1M1700.5 2569.1v8.1M1762.64 2569.1v8.1M1824.77 2569.1v8.1M1886.91 2569.1v8.1M1949.04 2569.1v8.1M2011.18 2569.1v8.1" stroke="#000" stroke-width="1.95" fill="none"/>
<g font-size="35.3" text-anchor="middle">
<text x="147.1" y="2611.1">0</text>
<text x="209.24" y="2611.1">2</text>
<text x="271.37" y="2611.1">4</text>
<text x="333.51" y="2611.1">6</text>
<text x="395.64" y="2611.1">8</text>
<text x="457.78" y="2611.1">10</text>
<text x="519.92" y="2611.1">12</text>
<text x="582.05" y="2611.1">14</text>
<text x="644.19" y="2611.1">16</text>
<text x="706.32" y="2611.1">18</text>
<text x="768.46" y="2611.1">20</text>
<text x="830.6" y="2611.1">22</text>
<text x="892.73" y="2611.1">24</text>
<text x="954.87" y="2611.1">26</text>
<text x="1017" y="2611.1">28</text>
<text x="1079.14" y="2611.1">30</text>
<text x="1141.28" y="2611.1">32</text>
<text x="1203.41" y="2611.1">34</text>
<text x="1265.55" y="2611.1">36</text>
<text x="1327.68" y="2611.1">38</text>
<text x="1389.82" y="2611.1">40</text>
<text x="1451.96" y="2611.1">42</text>
<text x="1514.09" y="2611.1">44</text>
<text x="1576.23" y="2611.1">46</text>
<text x="1638.36" y="2611.1">48</text>
<text x="1700.5" y="2611.1">50</text>
<text x="1762.64" y="2611.1">52</text>
<text x="1824.77" y="2611.1">54</text>
<text x="1886.91" y="2611.1">56</text>
<text x="1949.04" y="2611.1">58</text>
<text x="2011.18" y="2611.1">60</text>
</g>
<text x="1093.7" y="2656.3" font-size="37.2" text-anchor="middle">Stream #</text>
<path d="M123.7 2568.7h-8.1M123.7 2529.66h-8.1M123.7 2490.62h-8.1M123.7 2451.57h-8.1M123.7 2412.53h-8.1M123.7 2373.49h-8.1M123.7 2334.45h-8.1M123.7 2295.41h-8.1M123.7 2256.36h-8.1" stroke="#000" stroke-width="1.95" fill="none"/>
<g font-size="31.3" text-anchor="end" letter-spacing="-0.65">
<text x="106.6" y="2580.21">0</text>
<text x="106.6" y="2541.17">45</text>
<text x="106.6" y="2502.12">90</text>
<text x="106.6" y="2463.08">135</text>
<text x="106.6" y="2424.04">180</text>
<text x="106.6" y="2385">225</text>
<text x="106.6" y="2345.96">270</text>
<text x="106.6" y="2306.91">315</text>
<text x="106.6" y="2267.87">360</text>
</g>
<text transform="translate(31.2 2408.85) rotate(-90)" font-size="41.7" text-anchor="middle">Azimuth</text>
<text x="1094.9" y="2715.4" font-size="42.5" text-anchor="middle">(b)</text>
</svg>
</body></html>
